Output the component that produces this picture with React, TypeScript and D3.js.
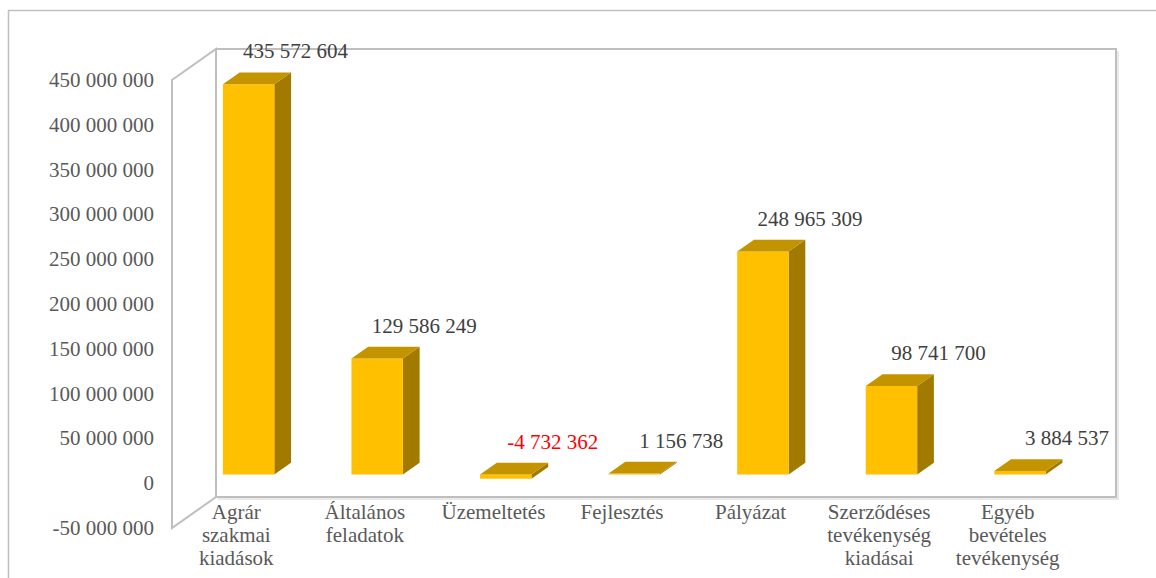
import React from "react";
import * as d3 from "d3";

const categories: string[][] = [
  ["Agrár", "szakmai", "kiadások"],
  ["Általános", "feladatok"],
  ["Üzemeltetés"],
  ["Fejlesztés"],
  ["Pályázat"],
  ["Szerződéses", "tevékenység", "kiadásai"],
  ["Egyéb", "bevételes", "tevékenység"],
];
const values: number[] = [435572604, 129586249, -4732362, 1156738, 248965309, 98741700, 3884537];
const tickValues: number[] = [-50e6, 0, 50e6, 100e6, 150e6, 200e6, 250e6, 300e6, 350e6, 400e6, 450e6];

const W = 1156;
const H = 578;
const DX = 44;
const DY = 31;
const D_FRONT = 0.28;
const D_BACK = 0.66;
const FONT = "'Liberation Serif', 'Times New Roman', serif";

const fmt = (v: number) => {
  const s = d3.format(",")(Math.abs(v)).replace(/,/g, " ");
  return (v < 0 ? "-" : "") + s;
};

export default function App() {
  const keys = categories.map((c) => c.join(" "));
  const x = d3.scaleBand<string>().domain(keys).range([172, 1072]).paddingInner(0.6).paddingOuter(0.3);
  const y = d3.scaleLinear().domain([-50e6, 450e6]).range([528, 80]);
  const P = (px: number, v: number, d: number): [number, number] => [px + d * DX, y(v) - d * DY];
  const pts = (arr: [number, number][]) => arr.map((p) => p.join(",")).join(" ");

  const [y0, y1] = y.domain();
  const wallBackTL = P(172, y1, 1);
  const wallBackBR = P(1072, y0, 1);
  const sideWall: [number, number][] = [P(172, y1, 0), P(172, y1, 1), P(172, y0, 1), P(172, y0, 0)];

  return (
    <svg width={W} height={H} style={{ position: "absolute", left: 0, top: 0, background: "#fff" }}>
      <rect x={8.5} y={10.5} width={1300} height={700} fill="#fff" stroke="#BFBFBF" strokeWidth={1.5} />
      {/* back wall */}
      <rect
        x={wallBackTL[0]}
        y={wallBackTL[1]}
        width={wallBackBR[0] - wallBackTL[0]}
        height={wallBackBR[1] - wallBackTL[1]}
        fill="#fff"
        stroke="#BFBFBF"
        strokeWidth={2}
      />
      <polyline
        points={pts([
          [wallBackBR[0] + 2, wallBackTL[1] + 2],
          [wallBackBR[0] + 2, wallBackBR[1] + 2],
          [wallBackTL[0] + 2, wallBackBR[1] + 2],
        ])}
        fill="none"
        stroke="#E3E3E3"
        strokeWidth={1.5}
      />
      {/* side wall */}
      <polygon points={pts(sideWall)} fill="#fff" stroke="#BFBFBF" strokeWidth={2} />

      {/* bars */}
      {values.map((v, i) => {
        const xl = x(keys[i])!;
        const xr = xl + x.bandwidth();
        const top = Math.max(v, 0);
        const bot = Math.min(v, 0);
        const front: [number, number][] = [P(xl, top, D_FRONT), P(xr, top, D_FRONT), P(xr, bot, D_FRONT), P(xl, bot, D_FRONT)];
        const topFace: [number, number][] = [P(xl, top, D_FRONT), P(xr, top, D_FRONT), P(xr, top, D_BACK), P(xl, top, D_BACK)];
        const side: [number, number][] = [P(xr, top, D_FRONT), P(xr, top, D_BACK), P(xr, bot, D_BACK), P(xr, bot, D_FRONT)];
        return (
          <g key={i}>
            <polygon points={pts(side)} fill="#A27A00" />
            <polygon points={pts(front)} fill="#FFC000" />
            <polygon points={pts(topFace)} fill="#C49300" />
          </g>
        );
      })}

      {/* y tick labels */}
      {tickValues.map((t) => (
        <text key={t} x={154} y={y(t)} textAnchor="end" dominantBaseline="central" fontFamily={FONT} fontSize={21} fill="#595959">
          {fmt(t)}
        </text>
      ))}

      {/* category labels */}
      {categories.map((lines, i) => {
        const cx = x(keys[i])! + x.bandwidth() / 2;
        return (
          <text key={i} textAnchor="middle" fontFamily={FONT} fontSize={21} fill="#595959">
            {lines.map((l, j) => (
              <tspan key={j} x={cx} y={512 + j * 23} dominantBaseline="central">
                {l}
              </tspan>
            ))}
          </text>
        );
      })}

      {/* data labels */}
      {values.map((v, i) => {
        const xl = x(keys[i])!;
        const cx = xl + x.bandwidth() / 2 + D_FRONT * DX + 47;
        const ty = P(xl, Math.max(v, 0), D_BACK)[1] - 21;
        return (
          <text key={i} x={cx} y={ty} textAnchor="middle" dominantBaseline="central" fontFamily={FONT} fontSize={21} fill={v < 0 ? "#FF0000" : "#404040"}>
            {fmt(v)}
          </text>
        );
      })}
    </svg>
  );
}
